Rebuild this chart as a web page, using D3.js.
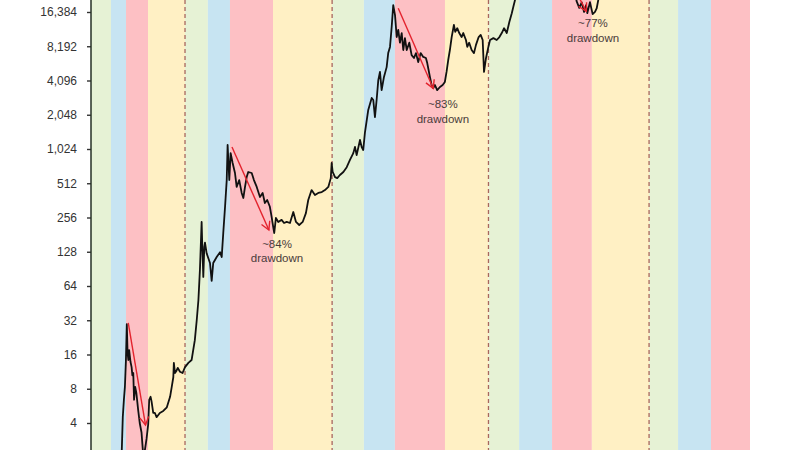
<!DOCTYPE html>
<html><head><meta charset="utf-8">
<script src="https://cdn.jsdelivr.net/npm/d3@7"></script>
<style>html,body{margin:0;padding:0;background:#fff;}svg{display:block;}</style>
</head><body><svg id="c" width="800" height="450"></svg>
<script>
// ---- data ----
const yTickValues = [4, 8, 16, 32, 64, 128, 256, 512, 1024, 2048, 4096, 8192, 16384];
const halvingDates = ["2012-11-28", "2016-07-09", "2020-05-11", "2024-04-20"];
const phaseEdges = ["2010-08-08","2011-02-03","2011-06-18","2012-01-01","2012-11-28","2013-06-21","2014-01-05","2015-01-26","2016-07-09","2017-04-20","2018-01-23","2019-04-17","2020-05-11","2021-02-10","2021-12-02","2022-11-24","2024-04-20","2025-01-05","2025-10-27","2026-10-12"];
const phaseNames = ["post-halving", "bull run", "bear market", "recovery"];
const phaseColors = ["#e6f2d5", "#c7e4f2", "#fdc0c4", "#fff0c4"];
const priceSeries = [
["2010-08-08",0.07],["2010-10-10",0.1],["2010-11-08",0.3],["2011-01-10",0.4],["2011-02-10",1.0],["2011-03-20",0.85],["2011-04-20",1.5],["2011-05-11",2.3],["2011-05-20",4.5],["2011-05-30",6.4],["2011-06-08",8.3],["2011-06-17",14],["2011-06-25",29.5],["2011-07-02",16.5],["2011-07-09",14.3],["2011-07-16",17.5],["2011-07-28",13.8],["2011-08-07",12.4],["2011-08-14",10.5],["2011-08-22",11],["2011-08-29",6.4],["2011-09-08",8.3],["2011-09-19",7.3],["2011-10-05",5.2],["2011-10-19",4.0],["2011-11-04",3.3],["2011-11-19",2.1],["2011-12-04",2.3],["2011-12-19",2.9],["2012-01-03",3.9],["2012-01-12",6.4],["2012-01-24",6.8],["2012-02-02",6.2],["2012-02-17",4.9],["2012-03-03",4.9],["2012-03-18",4.5],["2012-04-16",4.9],["2012-05-17",5.1],["2012-06-18",5.5],["2012-07-17",6.8],["2012-08-01",8.3],["2012-08-15",10.1],["2012-08-20",13.5],["2012-08-30",11],["2012-09-10",11.4],["2012-09-24",12.2],["2012-10-14",11.3],["2012-11-06",11],["2012-11-28",12.4],["2012-12-28",13.5],["2013-01-26",14.3],["2013-02-24",21.4],["2013-03-13",32],["2013-03-28",48],["2013-04-11",90],["2013-04-26",234],["2013-05-01",154],["2013-05-11",77],["2013-05-20",141],["2013-05-26",154],["2013-06-10",124],["2013-07-10",102],["2013-07-25",71],["2013-08-08",102],["2013-09-08",115],["2013-10-08",127],["2013-10-23",115],["2013-11-06",187],["2013-11-22",318],["2013-12-07",546],["2013-12-15",1110],["2013-12-30",546],["2014-01-11",942],["2014-01-29",771],["2014-02-19",630],["2014-03-06",475],["2014-03-29",546],["2014-04-20",421],["2014-05-05",380],["2014-05-20",475],["2014-06-04",580],["2014-06-18",643],["2014-07-19",630],["2014-08-08",546],["2014-09-02",475],["2014-10-01",388],["2014-10-25",421],["2014-11-14",343],["2014-12-05",365],["2014-12-29",318],["2015-01-14",258],["2015-01-28",211],["2015-02-06",187],["2015-02-21",254],["2015-03-14",234],["2015-04-13",244],["2015-05-05",229],["2015-05-29",234],["2015-06-27",229],["2015-07-27",286],["2015-08-20",234],["2015-09-18",220],["2015-10-19",234],["2015-11-17",280],["2015-12-08",365],["2016-01-07",446],["2016-02-06",404],["2016-03-07",421],["2016-04-07",428],["2016-05-06",446],["2016-06-05",475],["2016-06-27",568],["2016-07-05",771],["2016-07-14",643],["2016-08-04",580],["2016-08-24",568],["2016-09-17",605],["2016-10-18",643],["2016-11-17",709],["2016-12-16",820],["2017-01-15",942],["2017-01-30",1067],["2017-02-14",905],["2017-03-16",1229],["2017-03-31",1067],["2017-04-14",1003],["2017-04-29",1418],["2017-05-29",2257],["2017-06-29",2876],["2017-07-13",2760],["2017-07-28",1951],["2017-08-12",2760],["2017-08-27",4131],["2017-09-11",4870],["2017-09-26",3373],["2017-10-17",4400],["2017-11-10",5370],["2017-11-24",7130],["2017-12-10",8080],["2017-12-25",12100],["2018-01-08",18800],["2018-01-24",15400],["2018-02-08",9870],["2018-02-22",11400],["2018-03-09",8800],["2018-03-25",10700],["2018-04-08",7590],["2018-04-23",9660],["2018-05-09",7590],["2018-06-01",8800],["2018-06-22",6840],["2018-07-13",6460],["2018-07-31",7130],["2018-08-20",5950],["2018-09-11",7130],["2018-10-04",6600],["2018-10-28",6460],["2018-11-09",5830],["2018-12-03",4400],["2018-12-18",3740],["2019-01-02",3520],["2019-01-17",3740],["2019-02-06",3370],["2019-03-03",3590],["2019-03-27",3740],["2019-04-16",3980],["2019-05-01",4870],["2019-05-16",6200],["2019-05-31",7590],["2019-06-16",9870],["2019-07-06",12600],["2019-07-18",10950],["2019-08-05",11800],["2019-08-23",10700],["2019-09-13",9870],["2019-09-28",10700],["2019-10-22",9300],["2019-11-03",8080],["2019-11-20",8800],["2019-12-12",7590],["2020-01-02",7130],["2020-01-20",8420],["2020-02-13",9870],["2020-03-02",10300],["2020-03-20",9300],["2020-04-01",4870],["2020-04-19",6460],["2020-05-10",8080],["2020-05-25",9300],["2020-06-24",9660],["2020-07-24",9300],["2020-08-17",9870],["2020-09-07",10700],["2020-09-28",11800],["2020-10-22",10700],["2020-11-14",13400],["2020-12-06",16000],["2020-12-20",18200],["2021-01-04",20900],["2021-01-20",34000],["2021-04-14",63000],["2021-06-22",31000],["2021-09-06",52000],["2021-11-10",68000],["2022-01-24",35000],["2022-03-28",47000],["2022-06-10",30000],["2022-07-10",20400],["2022-08-03",17800],["2022-08-25",19900],["2022-09-15",16400],["2022-10-03",18800],["2022-10-14",16000],["2022-11-07",20000],["2022-12-01",15700],["2022-12-22",16400],["2023-01-06",17600],["2023-01-21",21000],["2023-02-20",24000],["2023-06-15",25500],["2023-10-15",27000],["2024-03-14",73000],["2024-08-05",54000],["2024-12-17",106000],["2025-04-08",77000],["2025-10-06",125000]
];
const drawdownLabels = ["~84%", "~83%", "~77%"];
const drawdownLabelAt = [["2015-03-03",150],["2019-03-29",2540],["2022-12-04",13100]];
const arrowStarts = [["2011-07-08",30.3],["2014-01-23",1067],["2018-02-22",17700],["2021-11-20",66000]];
const arrowEnds = [["2011-12-10",3.84],["2014-12-20",199],["2019-01-02",3490],["2022-10-05",16600]];

// ---- chart ----
const W = 800, H = 450;
const parse = d3.timeParse("%Y-%m-%d");
const svg = d3.select("#c");
const x = d3.scaleTime()
  .domain([parse(phaseEdges[0]), parse(phaseEdges[phaseEdges.length - 1])])
  .range([91, 750]);
const y = d3.scaleLog().base(2).domain([4, 16384]).range([423, 12]);

svg.append("rect").attr("width", W).attr("height", H).attr("fill", "#fff");

// phase bands
const bands = d3.range(phaseEdges.length - 1).map(i => ({
  a: parse(phaseEdges[i]), b: parse(phaseEdges[i + 1]), k: i % phaseNames.length
}));
svg.append("g").selectAll("rect").data(bands).join("rect")
  .attr("x", d => x(d.a)).attr("width", d => x(d.b) - x(d.a))
  .attr("y", 0).attr("height", H)
  .attr("fill", d => phaseColors[d.k]);

// halving lines
svg.append("g").selectAll("line").data(halvingDates).join("line")
  .attr("x1", d => x(parse(d))).attr("x2", d => x(parse(d)))
  .attr("y1", 0).attr("y2", H)
  .attr("stroke", "#a8665f").attr("stroke-width", 1.3)
  .attr("stroke-dasharray", "4,3");

// clip
svg.append("defs").append("clipPath").attr("id", "plot")
  .append("rect").attr("x", 91).attr("y", 0).attr("width", W - 91).attr("height", H);

// price line
const line = d3.line().x(d => x(parse(d[0]))).y(d => y(d[1]));
svg.append("path").datum(priceSeries)
  .attr("clip-path", "url(#plot)")
  .attr("d", line).attr("fill", "none")
  .attr("stroke", "#111").attr("stroke-width", 1.8)
  .attr("stroke-linejoin", "round");

// arrows
const defs = svg.select("defs");
defs.append("marker").attr("id", "ah")
  .attr("viewBox", "-10 -6 12 12").attr("refX", 0).attr("refY", 0)
  .attr("markerWidth", 12).attr("markerHeight", 12)
  .attr("markerUnits", "userSpaceOnUse").attr("orient", "auto")
  .append("path").attr("d", "M-8,-4.5L0,0L-8,4.5")
  .attr("fill", "none").attr("stroke", "#e3232e").attr("stroke-width", 1.4);
svg.append("g").attr("clip-path", "url(#plot)")
  .selectAll("line").data(arrowStarts.map((s, i) => [s, arrowEnds[i]])).join("line")
  .attr("x1", d => x(parse(d[0][0]))).attr("y1", d => y(d[0][1]))
  .attr("x2", d => x(parse(d[1][0]))).attr("y2", d => y(d[1][1]))
  .attr("stroke", "#e3232e").attr("stroke-width", 1.4)
  .attr("marker-end", "url(#ah)");

// drawdown labels
const lbl = svg.append("g").attr("font-family", "Liberation Sans, Arial, sans-serif")
  .attr("font-size", 11.5).attr("fill", "#4a3b3b").attr("text-anchor", "middle");
drawdownLabels.forEach((t, i) => {
  const px = x(parse(drawdownLabelAt[i][0])), py = y(drawdownLabelAt[i][1]);
  lbl.append("text").attr("x", px).attr("y", py).attr("dy", "0.35em").text(t);
  lbl.append("text").attr("x", px).attr("y", py + 14.5).attr("dy", "0.35em").text("drawdown");
});

// y axis
const ax = svg.append("g").attr("transform", "translate(91,0)")
  .call(d3.axisLeft(y).tickValues(yTickValues).tickFormat(d3.format(","))
    .tickSize(4).tickPadding(10));
ax.select(".domain").remove();
ax.selectAll(".tick line").attr("stroke", "#333").attr("stroke-width", 1.4);
ax.selectAll(".tick text").attr("fill", "#333")
  .attr("font-family", "Liberation Sans, Arial, sans-serif").attr("font-size", 12);
svg.append("line").attr("x1", 91).attr("x2", 91).attr("y1", 0).attr("y2", H)
  .attr("stroke", "#263026").attr("stroke-width", 1.5);
</script></body></html>
